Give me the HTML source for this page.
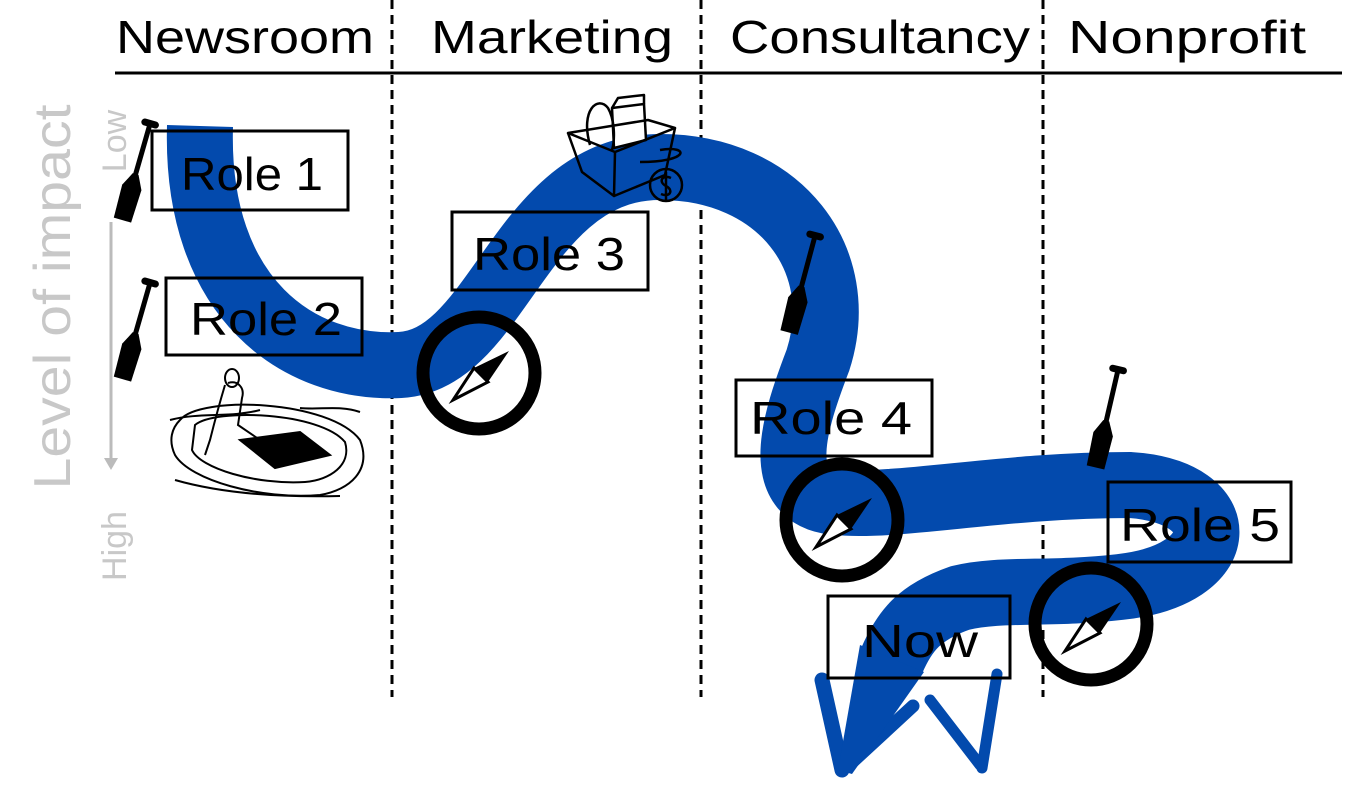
<!DOCTYPE html>
<html><head><meta charset="utf-8"><style>
html,body{margin:0;padding:0;background:#fff;}
svg{display:block;}
text{font-family:"Liberation Sans",sans-serif;}
</style></head><body>
<svg width="1352" height="801" viewBox="0 0 1352 801" xmlns="http://www.w3.org/2000/svg">
<defs>
<g id="paddle">
<rect x="-9" y="-4" width="18" height="7" rx="3.5" fill="#000"/>
<rect x="-2.5" y="0" width="5" height="55" fill="#000"/>
<path d="M-3 52 L3 52 L10 66 L9 100 L-9 100 L-10 66 Z" fill="#000"/>
</g>
<g id="compass">
<circle r="56" fill="none" stroke="#000" stroke-width="13"/>
<path d="M30 -22 L-5 -5 L9 9 Z" fill="#000"/>
<path d="M-5 -5 L9 9 L-26 27 Z" fill="#fff" stroke="#000" stroke-width="3" stroke-linejoin="miter"/>
</g>
</defs>

<text x="116" y="53" font-size="46" textLength="258" lengthAdjust="spacingAndGlyphs">Newsroom</text>
<text x="431" y="53" font-size="46" textLength="242" lengthAdjust="spacingAndGlyphs">Marketing</text>
<text x="730" y="53" font-size="46" textLength="300" lengthAdjust="spacingAndGlyphs">Consultancy</text>
<text x="1068" y="53" font-size="46" textLength="238" lengthAdjust="spacingAndGlyphs">Nonprofit</text>
<line x1="115" y1="73" x2="1342" y2="73" stroke="#000" stroke-width="3"/>

<g stroke="#000" stroke-width="3" stroke-dasharray="9,6">
<line x1="392" y1="0" x2="392" y2="697"/>
<line x1="701" y1="0" x2="701" y2="697"/>
<line x1="1043" y1="0" x2="1043" y2="697"/>
</g>

<g fill="none" stroke="#034aad" stroke-linecap="round">
<path d="M200 126 C195 300 300 370 400 365 C500 360 520 167 660 167 C780 167 850 260 818 360 C795 420 770 495 835 502 C900 508 1000 485 1130 485 C1235 492 1232 575 1120 587 C1050 595 1000 588 960 598 C920 612 905 630 892 660" stroke-width="66" stroke-linecap="butt"/>
<path d="M822 680 L842 770" stroke-width="15"/>
<path d="M913 706 L848 766" stroke-width="13"/>
<path d="M997 674 L982 768" stroke-width="11"/>
<path d="M930 700 L980 765" stroke-width="11"/>
</g>
<path d="M860 645 L924 672 L852 774 L838 770 Z" fill="#034aad"/>

<g fill="none" stroke="#000" stroke-width="3">
<rect x="152" y="131" width="196" height="79"/>
<rect x="166" y="278" width="196" height="77"/>
<rect x="452" y="212" width="196" height="78"/>
<rect x="736" y="380" width="196" height="76"/>
<rect x="1108" y="482" width="183" height="80"/>
<rect x="828" y="596" width="182" height="82"/>
</g>
<g font-size="46" fill="#000">
<text x="181" y="190" textLength="142" lengthAdjust="spacingAndGlyphs">Role 1</text>
<text x="190" y="335" textLength="152" lengthAdjust="spacingAndGlyphs">Role 2</text>
<text x="473" y="270" textLength="152" lengthAdjust="spacingAndGlyphs">Role 3</text>
<text x="750" y="434" textLength="162" lengthAdjust="spacingAndGlyphs">Role 4</text>
<text x="1120" y="541" textLength="160" lengthAdjust="spacingAndGlyphs">Role 5</text>
<text x="862" y="657" textLength="116" lengthAdjust="spacingAndGlyphs">Now</text>
</g>

<use href="#compass" x="479" y="373"/>
<use href="#compass" x="842" y="520"/>
<use href="#compass" x="1091" y="624"/>

<use href="#paddle" transform="translate(150,124) rotate(16)"/>
<use href="#paddle" transform="translate(150,283) rotate(16)"/>
<use href="#paddle" transform="translate(815,236) rotate(15)"/>
<use href="#paddle" transform="translate(1118,370) rotate(13)"/>

<text transform="translate(70,297) rotate(-90)" font-size="52" fill="#c8c8c8" text-anchor="middle" textLength="385" lengthAdjust="spacingAndGlyphs">Level of impact</text>
<text transform="translate(126,141) rotate(-90)" font-size="34" fill="#c8c8c8" text-anchor="middle">Low</text>
<text transform="translate(126,546) rotate(-90)" font-size="34" fill="#c8c8c8" text-anchor="middle">High</text>
<line x1="111" y1="222" x2="111" y2="462" stroke="#bbb" stroke-width="3"/>
<path d="M104 458 L111 470 L118 458 Z" fill="#bbb"/>

<g fill="none" stroke="#000" stroke-width="2">
<path d="M180 420 C200 395 330 400 360 440 C372 470 350 490 320 495 C260 500 190 480 175 455 C168 440 172 428 180 420 Z"/>
<path d="M195 425 C215 408 320 412 345 442 C352 465 330 480 305 482 C255 485 200 468 192 450 Z"/>
<path d="M240 440 L300 432 L330 455 L275 468 Z" fill="#000"/>
<path d="M225 385 C222 395 215 420 210 440 L205 455"/>
<path d="M228 383 C238 380 245 388 242 398 L238 425 L260 440"/>
<ellipse cx="232" cy="378" rx="7" ry="9"/>
<path d="M170 420 C200 412 230 418 260 410 M300 408 C320 410 340 405 360 412 M175 480 C210 490 260 498 340 496"/>
</g>

<g fill="none" stroke="#000" stroke-width="2.5" stroke-linejoin="round">
<path d="M612 108 L644 104 L646 140 L614 148 Z" fill="#fff"/>
<path d="M612 108 L618 98 L644 95 L644 104"/>
<path d="M590 145 C580 110 598 95 608 108 C615 120 615 140 612 150"/>
<path d="M568 133 L648 120 L675 128 L615 152 Z"/>
<path d="M568 133 L582 172 L614 196 L615 152"/>
<path d="M614 196 L665 175 L675 128"/>
<path d="M660 150 C690 145 690 162 640 162"/>
<circle cx="666" cy="185" r="16"/>
<path d="M671 178 C662 174 658 182 666 186 C674 190 670 198 661 194 M666 172 L666 200"/>
</g>
</svg>
</body></html>
